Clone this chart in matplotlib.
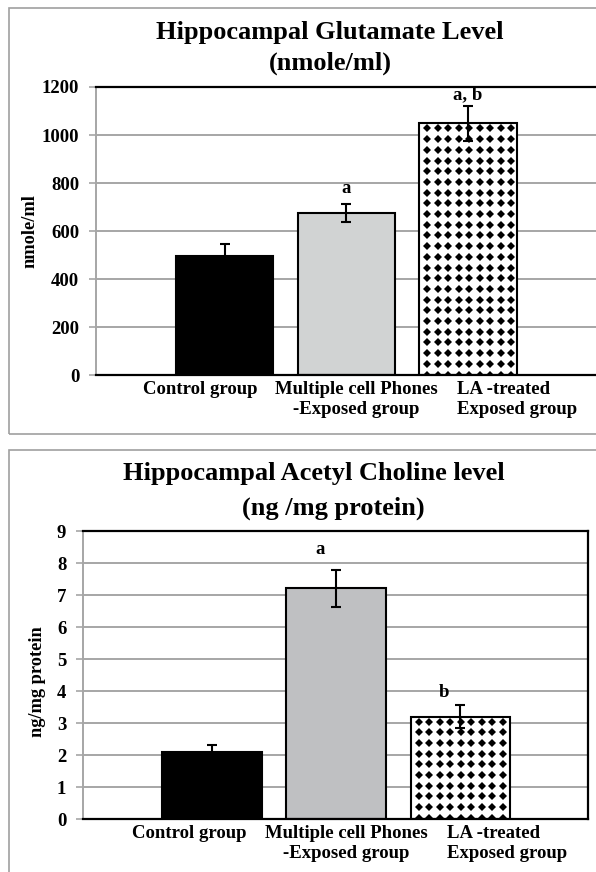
import numpy as np
import matplotlib
matplotlib.use("Agg")
import matplotlib.pyplot as plt
from matplotlib.patches import Rectangle

plt.rcParams["font.family"] = ["Liberation Serif", "DejaVu Serif"]
plt.rcParams["font.weight"] = "bold"

# data
groups = ["Control group", "Multiple cell Phones\n-Exposed group", "LA -treated\nExposed group"]
glu_mean = [495, 675, 1048]
glu_err = [50, 38, 72]
glu_sig = ["", "a", "a, b"]
glu_sig_y = [0, 779, 1167]
ach_mean = [2.10, 7.21, 3.20]
ach_err = [0.22, 0.58, 0.35]
ach_sig = ["", "a", "b"]
ach_sig_y = [0, 8.41, 3.95]

W, H = 596, 872
GRID = "#a6a6a6"
fig = plt.figure(figsize=(W / 100, H / 100), dpi=100)


def px_box(l, r, top, bot):
    return [l / W, 1 - bot / H, (r - l) / W, (bot - top) / H]


def diamonds(ax, bar, step_x=10.5, step_y=10.7):
    # dotted fill of the LA bar, built in pixel space and clipped to the bar
    (x0, y0), (x1, y1) = ax.transData.transform(
        [(bar.get_x(), bar.get_y()), (bar.get_x() + bar.get_width(), bar.get_y() + bar.get_height())])
    xs = np.arange(x0 + 8, x1, step_x)
    ys = np.arange(y1 - 5, y0 - 5, -step_y)
    gx, gy = np.meshgrid(xs, ys)
    pts = ax.transData.inverted().transform(np.c_[gx.ravel(), gy.ravel()])
    ln, = ax.plot(pts[:, 0], pts[:, 1], "D", ms=4.0, color="black", mew=0, zorder=3)
    ln.set_clip_path(bar)


def panel(ax, means, errs, sig, sig_y, ymax, ystep, mid_color, xlim, sig_dx, lab_x):
    x = np.arange(len(means))
    ax.set_xlim(*xlim)
    ax.set_ylim(0, ymax)
    bars = ax.bar(x, means, width=0.8, color=["black", mid_color, "white"],
                  edgecolor="black", linewidth=1.5, zorder=2)
    diamonds(ax, bars[2])
    ax.errorbar(x, means, yerr=errs, fmt="none", ecolor="black", elinewidth=1.5,
                capsize=3.5, capthick=1.5, zorder=4)
    for i, s in enumerate(sig):
        if s:
            ax.text(x[i] + sig_dx[i], sig_y[i], s, ha="center", va="center",
                    fontsize=13.5, fontweight="bold")
    ax.set_yticks(np.arange(0, ymax + ystep / 2, ystep))
    ax.yaxis.grid(True, color=GRID, lw=1.4, zorder=0)
    ax.set_axisbelow(True)
    ax.set_xticks([])
    ax.tick_params(axis="y", length=5, width=1.2, color=GRID, pad=7, labelsize=13.5)
    for s in ("top", "right", "bottom"):
        ax.spines[s].set_linewidth(1.6)
    ax.spines["left"].set_color(GRID)
    ax.spines["left"].set_linewidth(1.4)
    tr = ax.get_xaxis_transform()
    for i, (lx, ha) in enumerate(zip(lab_x, ["center", "center", "left"])):
        ax.text(lx, -0.022, groups[i], transform=tr, ha=ha, va="top",
                fontsize=13.5, fontweight="bold", linespacing=1.2)


def label(xp, yp, s, size, rot=0):
    fig.text(xp / W, 1 - yp / H, s, ha="center", va="center", rotation=rot,
             fontsize=size, fontweight="bold")


# top panel: glutamate
ax1 = fig.add_axes(px_box(96, 614, 87, 375))
panel(ax1, glu_mean, glu_err, glu_sig, glu_sig_y, 1200, 200, "#d1d3d3", (-1.057, 3.2),
      [0, 0, 0], [-0.2, 1.08, 1.91])
label(330, 33, "Hippocampal Glutamate Level", 19)
label(330, 63, "(nmole/ml)", 19)
label(30, 231, "nmole/ml", 13.2, 90)

# bottom panel: acetylcholine
ax2 = fig.add_axes(px_box(83, 588, 531, 819))
panel(ax2, ach_mean, ach_err, ach_sig, ach_sig_y, 9, 1, "#bfc0c2", (-1.04, 3.03),
      [0, -0.13, -0.13], [-0.18, 1.08, 1.89])
label(314, 473, "Hippocampal Acetyl Choline level", 19)
label(333, 508, "(ng /mg protein)", 19)
label(38, 682, "ng/mg protein", 13.2, 90)

# grey chart-area frames
for top, bot in ((8, 434), (450, 900)):
    fig.add_artist(Rectangle((9 / W, 1 - bot / H), (640 - 9) / W, (bot - top) / H,
                             transform=fig.transFigure, fill=False,
                             edgecolor="#a0a0a0", lw=1.2))

fig.savefig("out.png", dpi=100)
